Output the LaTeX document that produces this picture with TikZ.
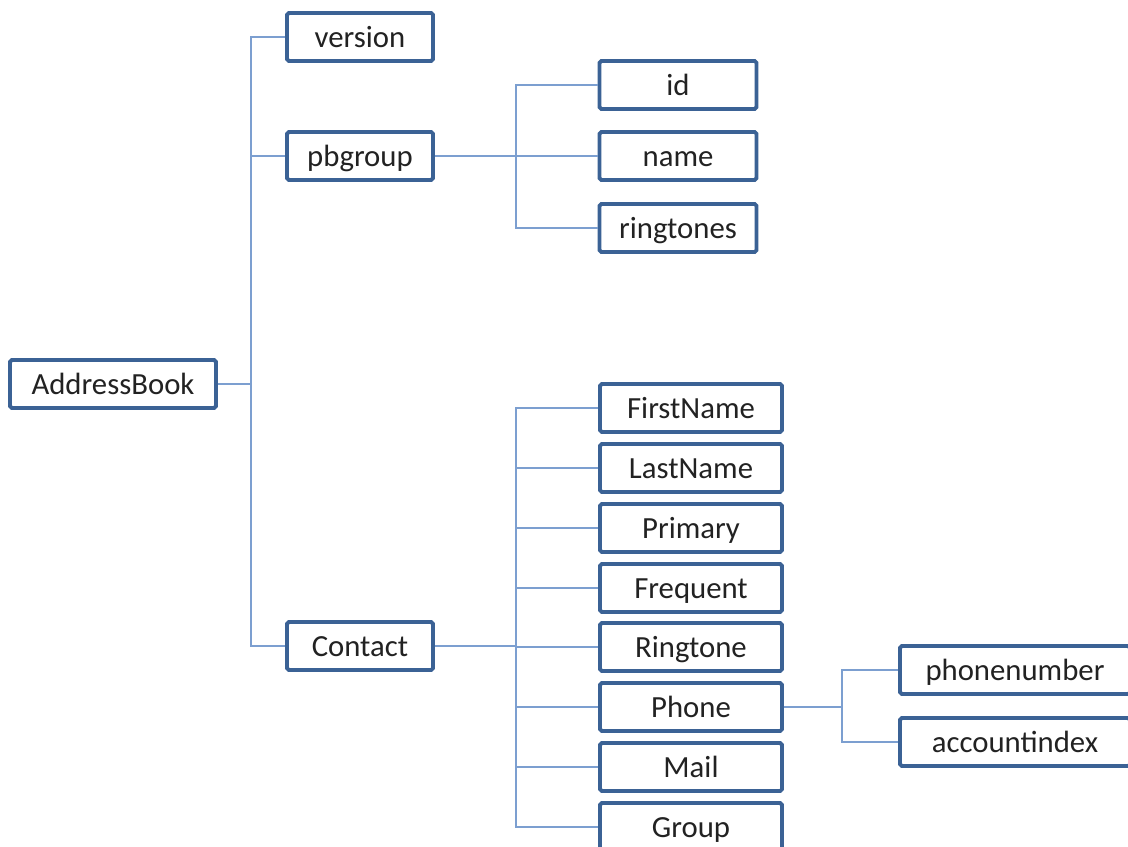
\documentclass[tikz,border=0pt]{standalone}
\usepackage{fontspec}
\setmainfont{Carlito}
\usepackage{tikz}

\definecolor{boxblue}{HTML}{3B6295}
\definecolor{lineblue}{HTML}{7C9FD0}
\definecolor{labelgrey}{HTML}{222222}

\begin{document}
\begin{tikzpicture}[x=0.02cm, y=-0.02cm,
    field/.style={draw=boxblue, line width=2.2pt, rounded corners=1pt, fill=white,
        minimum height=0.96cm, inner sep=0pt, text=labelgrey,
        text height=12pt, text depth=0pt, font=\fontsize{17.5}{20}\selectfont},
    conn/.style={draw=lineblue, line width=0.9pt}]
            % Frame
            \useasboundingbox (0,0) rectangle (1128,847);
            \clip (0,0) rectangle (1128,847);

            % Bus lines
            \coordinate (trunk) at (251,0);
            \coordinate (gbus) at (516,0);
            \coordinate (pbus) at (842,0);

            % Root and first level
            \node[field, minimum width=4.12cm] (AddressBook) at (113,384) {AddressBook};
            \node[field, minimum width=2.92cm] (version) at (360,37) {version};
            \node[field, minimum width=2.92cm] (pbgroup) at (360,156) {pbgroup};
            \node[field, minimum width=2.92cm] (Contact) at (360,646) {Contact};

            % Group fields
            \node[field, minimum width=3.14cm] (id) at (678,85) {id};
            \node[field, minimum width=3.14cm] (name) at (678,156) {name};
            \node[field, minimum width=3.14cm] (ringtones) at (678,228) {ringtones};

            % Contact fields
            \node[field, minimum width=3.64cm] (FirstName) at (691,408) {FirstName};
            \node[field, minimum width=3.64cm] (LastName) at (691,468) {LastName};
            \node[field, minimum width=3.64cm] (Primary) at (691,528) {Primary};
            \node[field, minimum width=3.64cm] (Frequent) at (691,588) {Frequent};
            \node[field, minimum width=3.64cm] (Ringtone) at (691,647) {Ringtone};
            \node[field, minimum width=3.64cm] (Phone) at (691,707) {Phone};
            \node[field, minimum width=3.64cm] (Mail) at (691,767) {Mail};
            \node[field, minimum width=3.64cm] (Group) at (691,827) {Group};

            % Phone fields
            \node[field, minimum width=4.6cm] (phonenumber) at (1015,670) {phonenumber};
            \node[field, minimum width=4.6cm] (accountindex) at (1015,742) {accountindex};

            % Root connectors
            \draw[conn] (AddressBook.east) -- (AddressBook.east -| trunk);
            \draw[conn] (version.west) -| (Contact.west -| trunk) -- (Contact.west);
            \draw[conn] (pbgroup.west) -- (pbgroup.west -| trunk);

            % pbgroup connectors
            \draw[conn] (pbgroup.east) -- (name.west);
            \draw[conn] (id.west) -| (ringtones.west -| gbus) -- (ringtones.west);

            % Contact connectors
            \draw[conn] (Contact.east) -- (Contact.east -| gbus);
            \draw[conn] (FirstName.west) -| (Group.west -| gbus) -- (Group.west);
            \draw[conn] (LastName.west) -- (LastName.west -| gbus);
            \draw[conn] (Primary.west) -- (Primary.west -| gbus);
            \draw[conn] (Frequent.west) -- (Frequent.west -| gbus);
            \draw[conn] (Ringtone.west) -- (Ringtone.west -| gbus);
            \draw[conn] (Phone.west) -- (Phone.west -| gbus);
            \draw[conn] (Mail.west) -- (Mail.west -| gbus);

            % Phone connectors
            \draw[conn] (Phone.east) -- (Phone.east -| pbus);
            \draw[conn] (phonenumber.west) -| (accountindex.west -| pbus) -- (accountindex.west);
        \end{tikzpicture}
\end{document}
